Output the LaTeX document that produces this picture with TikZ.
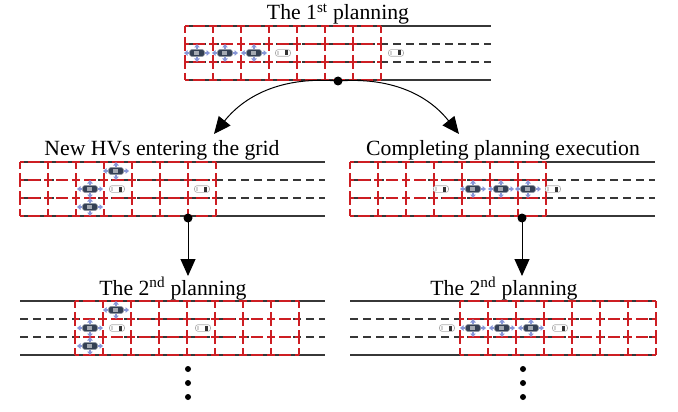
\documentclass[tikz,border=0pt]{standalone}
\usepackage{fontspec}
\setmainfont{Liberation Serif}
\usetikzlibrary{arrows.meta, positioning, calc}

\definecolor{gridred}{RGB}{205, 30, 35}
\definecolor{roadgray}{RGB}{55, 55, 55}
\definecolor{avbody}{RGB}{52, 64, 84}
\definecolor{avblue}{RGB}{135, 150, 215}

\tikzset{
  heading/.style={font=\fontsize{21.7}{26}\selectfont, anchor=base, inner sep=1pt},
  road/.style={draw=roadgray, line width=1.3pt},
  lane/.style={draw=roadgray, line width=1.1pt, dash pattern=on 8pt off 5pt},
  cellh/.style={draw=gridred, line width=1.5pt, dash pattern=on 12pt off 4pt, dash phase=8pt},
  cellv/.style={draw=gridred, line width=1.5pt, dash pattern=on 7pt off 4pt},
  junction/.style={circle, fill=black, inner sep=0pt, minimum size=9pt},
  moredot/.style={circle, fill=black, inner sep=0pt, minimum size=6pt},
  link/.style={draw=black, line width=1pt, -{Triangle[length=17pt, width=15pt]}},
  % human-driven vehicle
  hv/.pic={
    \draw[gray!65, fill=white, line width=0.6pt, rounded corners=2.5pt] (-7.5,-3.3) rectangle (7.5,3.3);
    \fill[black!80] (2.4,-2.5) rectangle (4.6,2.5);
    \fill[gray!35] (-5.6,-2.2) rectangle (-4.4,2.2);
  },
  % automated vehicle with its move options
  av/.pic={
    \draw[avblue, line width=1.5pt, {Triangle[length=3.5pt, width=5.5pt]}-{Triangle[length=3.5pt, width=5.5pt]}] (-13,0) -- (13,0);
    \draw[avblue, line width=1.5pt, {Triangle[length=3.5pt, width=5.5pt]}-{Triangle[length=3.5pt, width=5.5pt]}] (0,-9) -- (0,9);
    \draw[avbody!55, fill=avbody, line width=0.6pt, rounded corners=2.5pt] (-7.5,-3.5) rectangle (7.5,3.5);
    \fill[avbody!45] (-3,-1.8) rectangle (2,1.8);
  },
}

% three-lane road: from x #1 to x #2, top edge at y #3
\newcommand{\drawroad}[3]{%
  \draw[road] (#1,#3) -- (#2,#3);
  \draw[road] (#1,#3+54) -- (#2,#3+54);
  \draw[lane] (#1,#3+18) -- (#2,#3+18);
  \draw[lane] (#1,#3+36) -- (#2,#3+36);
}

% planning grid: left edge #1, top edge #2, #3 columns of 28pt
\newcommand{\drawgrid}[3]{%
  \foreach \c in {1,...,#3}
    \foreach \r in {0,...,3}
      \draw[cellh] ({#1+(\c-1)*28},{#2+18*\r}) -- ++(28,0);
  \foreach \c in {0,...,#3}
    \foreach \r in {1,2,3}
      \draw[cellv] ({#1+\c*28},{#2+18*(\r-1)}) -- ++(0,18);
}

\begin{document}
\begin{tikzpicture}[x=1pt, y=-1pt]
  \useasboundingbox (0,0) rectangle (678,412);

  % first planning
  \node[heading] (plan1) at (338,20) {The 1\textsuperscript{st} planning};
  \drawroad{185}{491}{26}
  \drawgrid{185}{26}{7}
  \foreach \x in {197,225,254} \pic at (\x,53) {av};
  \foreach \x in {283,396} \pic at (\x,53) {hv};

  % HVs move into the grid
  \node[heading] (newhv) at (162,155) {New HVs entering the grid};
  \drawroad{20}{325}{162}
  \drawgrid{20}{162}{7}
  \pic at (116,171) {av};
  \pic at (90,189) {av};
  \pic at (90,207) {av};
  \foreach \x in {117,202} \pic at (\x,189) {hv};

  % planning carried out
  \node[heading] (done) at (503,155) {Completing planning execution};
  \drawroad{350}{655}{162}
  \drawgrid{350}{162}{7}
  \foreach \x in {473,501,528} \pic at (\x,189) {av};
  \foreach \x in {441,553} \pic at (\x,189) {hv};

  % second planning, left branch
  \node[heading] (plan2a) at (173,295) {The 2\textsuperscript{nd} planning};
  \drawroad{20}{325}{301}
  \drawgrid{75}{301}{8}
  \pic at (116,310) {av};
  \pic at (90,328) {av};
  \pic at (90,346) {av};
  \foreach \x in {117,203} \pic at (\x,328) {hv};

  % second planning, right branch
  \node[heading] (plan2b) at (504,295) {The 2\textsuperscript{nd} planning};
  \drawroad{350}{656}{301}
  \drawgrid{460}{301}{7}
  \foreach \x in {473,502,531} \pic at (\x,328) {av};
  \foreach \x in {447,560} \pic at (\x,328) {hv};

  % connectors
  \node[junction] (split) at (338,81) {};
  \node[junction] (j1) at (188,218) {};
  \node[junction] (j2) at (522,218) {};
  \coordinate (tipl) at (214,134);
  \coordinate (tipr) at (459,134);
  \coordinate (tip1) at (188,276);
  \coordinate (tip2) at (522,276);
  \draw[link] (split.center) to[bend right=28] (tipl);
  \draw[link] (split.center) to[bend left=28] (tipr);
  \draw[link] (j1.center) -- (tip1);
  \draw[link] (j2.center) -- (tip2);

  \foreach \y [count=\i] in {369,383,397} {
    \node[moredot] (morea\i) at (188,\y) {};
    \node[moredot] (moreb\i) at (523,\y) {};
  }
\end{tikzpicture}
\end{document}
